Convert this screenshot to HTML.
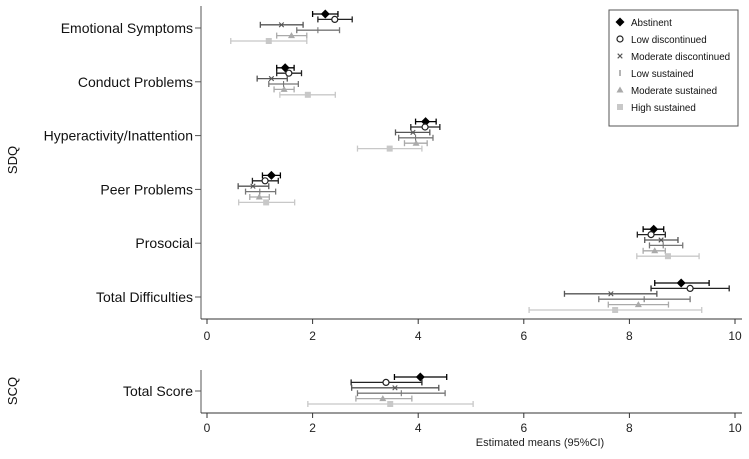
<!DOCTYPE html>
<html><head><meta charset="utf-8"><style>
body{margin:0;background:#fff}
svg text{font-family:"Liberation Sans",sans-serif}
</style></head><body>
<svg id="chart" width="749" height="454" viewBox="0 0 749 454" xmlns="http://www.w3.org/2000/svg"></svg>
<script>
const categories = ["Emotional Symptoms","Conduct Problems","Hyperactivity/Inattention","Peer Problems","Prosocial","Total Difficulties"];
const scqCategories = ["Total Score"];
const groups = ["Abstinent","Low discontinued","Moderate discontinued","Low sustained","Moderate sustained","High sustained"];
const meanAbstinent = [2.24,1.48,4.14,1.22,8.46,8.98,4.04];
const loAbstinent   = [2.00,1.32,3.95,1.05,8.26,8.48,3.55];
const hiAbstinent   = [2.48,1.65,4.34,1.39,8.65,9.51,4.54];
const meanLowDisc = [2.42,1.55,4.13,1.10,8.41,9.15,3.39];
const loLowDisc   = [2.10,1.32,3.86,0.86,8.15,8.41,2.73];
const hiLowDisc   = [2.75,1.79,4.41,1.35,8.68,9.89,4.07];
const meanModDisc = [1.41,1.22,3.90,0.87,8.60,7.65,3.56];
const loModDisc   = [1.01,0.95,3.57,0.59,8.29,6.77,2.74];
const hiModDisc   = [1.82,1.52,4.22,1.17,8.92,8.52,4.39];
const meanLowSus = [2.10,1.45,3.95,1.00,8.64,8.28,3.68];
const loLowSus   = [1.70,1.17,3.63,0.73,8.38,7.42,2.85];
const hiLowSus   = [2.51,1.73,4.28,1.30,9.01,9.15,4.51];
const meanModSus = [1.60,1.46,3.96,0.99,8.48,8.17,3.33];
const loModSus   = [1.32,1.27,3.74,0.81,8.26,7.60,2.82];
const hiModSus   = [1.89,1.65,4.17,1.18,8.68,8.74,3.88];
const meanHighSus = [1.17,1.91,3.46,1.12,8.73,7.73,3.47];
const loHighSus   = [0.45,1.38,2.85,0.60,8.14,6.10,1.91];
const hiHighSus   = [1.89,2.43,4.07,1.66,9.32,9.37,5.04];
const xTicks = [0,2,4,6,8,10];

const series=[[meanAbstinent,loAbstinent,hiAbstinent],[meanLowDisc,loLowDisc,hiLowDisc],[meanModDisc,loModDisc,hiModDisc],[meanLowSus,loLowSus,hiLowSus],[meanModSus,loModSus,hiModSus],[meanHighSus,loHighSus,hiHighSus]];
const colors=["#000","#222","#555","#777","#aaa","#c8c8c8"];
const ns="http://www.w3.org/2000/svg";
const svg=document.getElementById('chart');
const X=v=>207+v*52.8;
function mk(tag,attrs,parent){const e=document.createElementNS(ns,tag);for(const k in attrs)e.setAttribute(k,attrs[k]);(parent||svg).appendChild(e);return e;}
function txt(s,attrs){const t=mk('text',attrs);t.textContent=s;return t;}
function marker(g,i,x,y,par){const c=colors[i];let e;
 if(i===0)e=mk('polygon',{points:`${x},${y-4.5} ${x+4.5},${y} ${x},${y+4.5} ${x-4.5},${y}`,fill:c},par);
 else if(i===1)e=mk('circle',{cx:x,cy:y,r:3,fill:'#fff',stroke:c,'stroke-width':1.2},par);
 else if(i===2)e=mk('path',{d:`M${x-2.3},${y-2.3}L${x+2.3},${y+2.3}M${x-2.3},${y+2.3}L${x+2.3},${y-2.3}`,stroke:c,'stroke-width':1.1},par);
 else if(i===3)e=mk('line',{x1:x,x2:x,y1:y-3,y2:y+3,stroke:c,'stroke-width':1.1},par);
 else if(i===4)e=mk('polygon',{points:`${x},${y-3.5} ${x+3.5},${y+2.5} ${x-3.5},${y+2.5}`,fill:c},par);
 else e=mk('rect',{x:x-3,y:y-3,width:6,height:6,fill:c},par);
 return e;}
function axisX(yLine,yLab){
 mk('line',{x1:201,x2:742,y1:yLine,y2:yLine,stroke:'#333','stroke-width':1});
 xTicks.forEach(t=>{mk('line',{x1:X(t),x2:X(t),y1:yLine,y2:yLine+5,stroke:'#333'});
  const l=txt(t,{x:X(t),y:yLab,'font-size':12,'text-anchor':'middle',fill:'#222'});
  
  });}
mk('line',{x1:201,x2:201,y1:6,y2:319,stroke:'#555'});
mk('line',{x1:201,x2:201,y1:370,y2:413,stroke:'#555'});
axisX(319,340);axisX(413,432);
function row(label,yc,ci){
 mk('line',{x1:195,x2:201,y1:yc,y2:yc,stroke:'#555'});
 const l=txt(label,{x:193,y:yc+5,'font-size':14,'text-anchor':'end',fill:'#111'});
 
 
 series.forEach((s,i)=>{const y=yc-14+i*5.4;const g=mk('g',{});
  
  
  const a=X(s[1][ci]),b=X(s[2][ci]);
  mk('line',{x1:a,x2:b,y1:y,y2:y,stroke:colors[i],'stroke-width':1.3},g);
  mk('line',{x1:a,x2:a,y1:y-3,y2:y+3,stroke:colors[i],'stroke-width':1.3},g);
  mk('line',{x1:b,x2:b,y1:y-3,y2:y+3,stroke:colors[i],'stroke-width':1.3},g);
  marker(g,i,X(s[0][ci]),y,g);});}
categories.forEach((c,k)=>row(c,28+k*53.8,k));
row(scqCategories[0],391,6);
const sdq=txt('SDQ',{x:0,y:0,'font-size':13,transform:'translate(17,160) rotate(-90)','text-anchor':'middle',fill:'#111'});

const scq=txt('SCQ',{x:0,y:0,'font-size':13,transform:'translate(17,391) rotate(-90)','text-anchor':'middle',fill:'#111'});

const xt=txt('Estimated means (95%CI)',{x:540,y:446,'font-size':11,'text-anchor':'middle',fill:'#222'});

const lg=mk('g',{});

mk('rect',{x:609,y:10,width:129,height:116,fill:'#fff',stroke:'#555'},lg);
groups.forEach((g,i)=>{const y=22+i*17;const e=mk('g',{},lg);
 
 
 marker(e,i,620,y,e);
 const t=mk('text',{x:631,y:y+4,'font-size':9.8,fill:'#111'},e);t.textContent=g;});
</script>
</body></html>
